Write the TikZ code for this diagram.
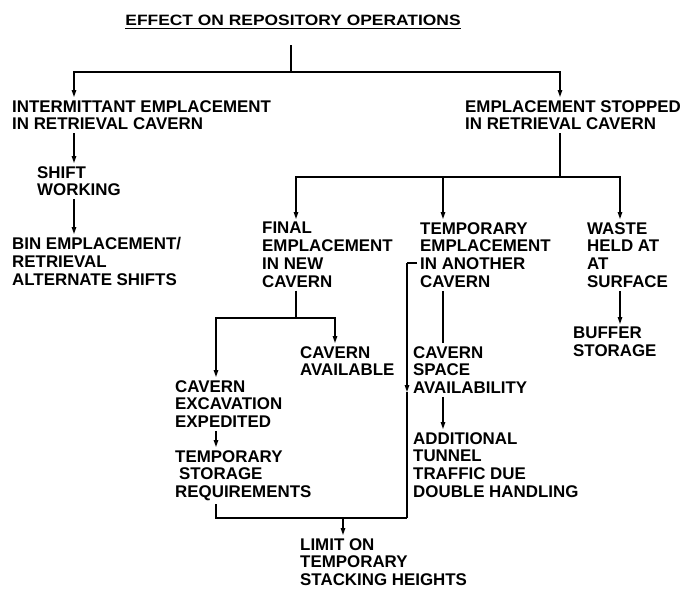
\documentclass[tikz,border=0pt]{standalone}
\usepackage{fontspec}
\setmainfont{Liberation Sans}
\usepackage{graphicx}
\usetikzlibrary{arrows.meta}
\begin{document}
\begin{tikzpicture}[x=1pt,y=-1pt,
  lbl/.style={anchor=north west, align=left, inner xsep=0pt, inner ysep=3pt,
              font=\fontsize{16.9}{17.8}\selectfont\bfseries},
  ln/.style={line width=1.3pt},
  arr/.style={ln, -{Triangle[length=7pt,width=4.5pt]}}]
\useasboundingbox[fill=white] (0,0) rectangle (684,589);

% title
\node[inner sep=0pt, font=\fontsize{15}{17}\selectfont\bfseries] (title) at (293,20)
  {\scalebox{1.16}[1]{EFFECT ON REPOSITORY OPERATIONS}};
\draw[line width=1pt] ([yshift=-3pt]title.south west) -- ([yshift=-3pt]title.south east);

% text nodes
\node[lbl] (inter)   at (12,97)  {INTERMITTANT EMPLACEMENT\\IN RETRIEVAL CAVERN};
\node[lbl] (stopped) at (465,97) {EMPLACEMENT STOPPED\\IN RETRIEVAL CAVERN};
\node[lbl] (shift)   at (37,163) {SHIFT\\WORKING};
\node[lbl] (bin)     at (12,234) {BIN EMPLACEMENT/\\RETRIEVAL\\ALTERNATE SHIFTS};
\node[lbl] (final)   at (262,219) {FINAL\\EMPLACEMENT\\IN NEW\\CAVERN};
\node[lbl] (tempemp) at (420,219) {TEMPORARY\\EMPLACEMENT\\IN ANOTHER\\CAVERN};
\node[lbl] (waste)   at (587,219) {WASTE\\HELD AT\\AT\\SURFACE};
\node[lbl] (buffer)  at (573,324) {BUFFER\\STORAGE};
\node[lbl] (avail)   at (300,343) {CAVERN\\AVAILABLE};
\node[lbl] (space)   at (413,343) {CAVERN\\SPACE\\AVAILABILITY};
\node[lbl] (excav)   at (175,377) {CAVERN\\EXCAVATION\\EXPEDITED};
\node[lbl] (addl)    at (413,429) {ADDITIONAL\\TUNNEL\\TRAFFIC DUE\\DOUBLE HANDLING};
\node[lbl] (tstor)   at (175,447) {TEMPORARY\\\hspace{4pt}STORAGE\\REQUIREMENTS};
\node[lbl] (limit)   at (300,535) {LIMIT ON\\TEMPORARY\\STACKING HEIGHTS};

% junctions / columns
\coordinate (t0) at (291,45);
\coordinate (j1) at (291,72);
\coordinate (cL) at (74,0);
\coordinate (cR) at (560,0);
\coordinate (j2) at (560,177);
\coordinate (c1) at (296,0);
\coordinate (c2) at (443,0);
\coordinate (c3) at (620,0);
\coordinate (j3) at (296,318);
\coordinate (c4) at (335,0);
\coordinate (c5) at (216,0);
\coordinate (c6) at (407,263);
\coordinate (cm) at (407,392);
\coordinate (j4) at (407,518);
\coordinate (j5) at (343,518);

% connectors
\draw[ln] (t0) -- (j1);
\draw[arr] (j1) -| (inter.north -| cL);
\draw[arr] (j1) -| (stopped.north -| cR);
\draw[arr] (inter.south -| cL) -- (shift.north -| cL);
\draw[arr] (shift.south -| cL) -- (bin.north -| cL);
\draw[ln] (stopped.south -| cR) -- (j2);
\draw[arr] (j2) -| (final.north -| c1);
\draw[arr] (j2) -| (tempemp.north -| c2);
\draw[arr] (j2) -| (waste.north -| c3);
\draw[ln] (final.south -| c1) -- (j3);
\draw[arr] (j3) -| (avail.north -| c4);
\draw[arr] (j3) -| (excav.north -| c5);
\draw[ln] (tempemp.south -| c2) -- (space.north -| c2);
\draw[arr] (space.south -| c2) -- (addl.north -| c2);
\draw[arr] (waste.south -| c3) -- (buffer.north -| c3);
\draw[arr] (excav.south -| c5) -- (tstor.north -| c5);
\draw[ln, shorten <=3pt] (tempemp.west |- c6) -- (c6);
\draw[arr] (c6) -- (cm);
\draw[ln] (cm) -- (j4);
\draw[ln] (tstor.south -| c5) |- (j4);
\draw[arr] (j5) -- (limit.north -| j5);
\end{tikzpicture}
\end{document}
